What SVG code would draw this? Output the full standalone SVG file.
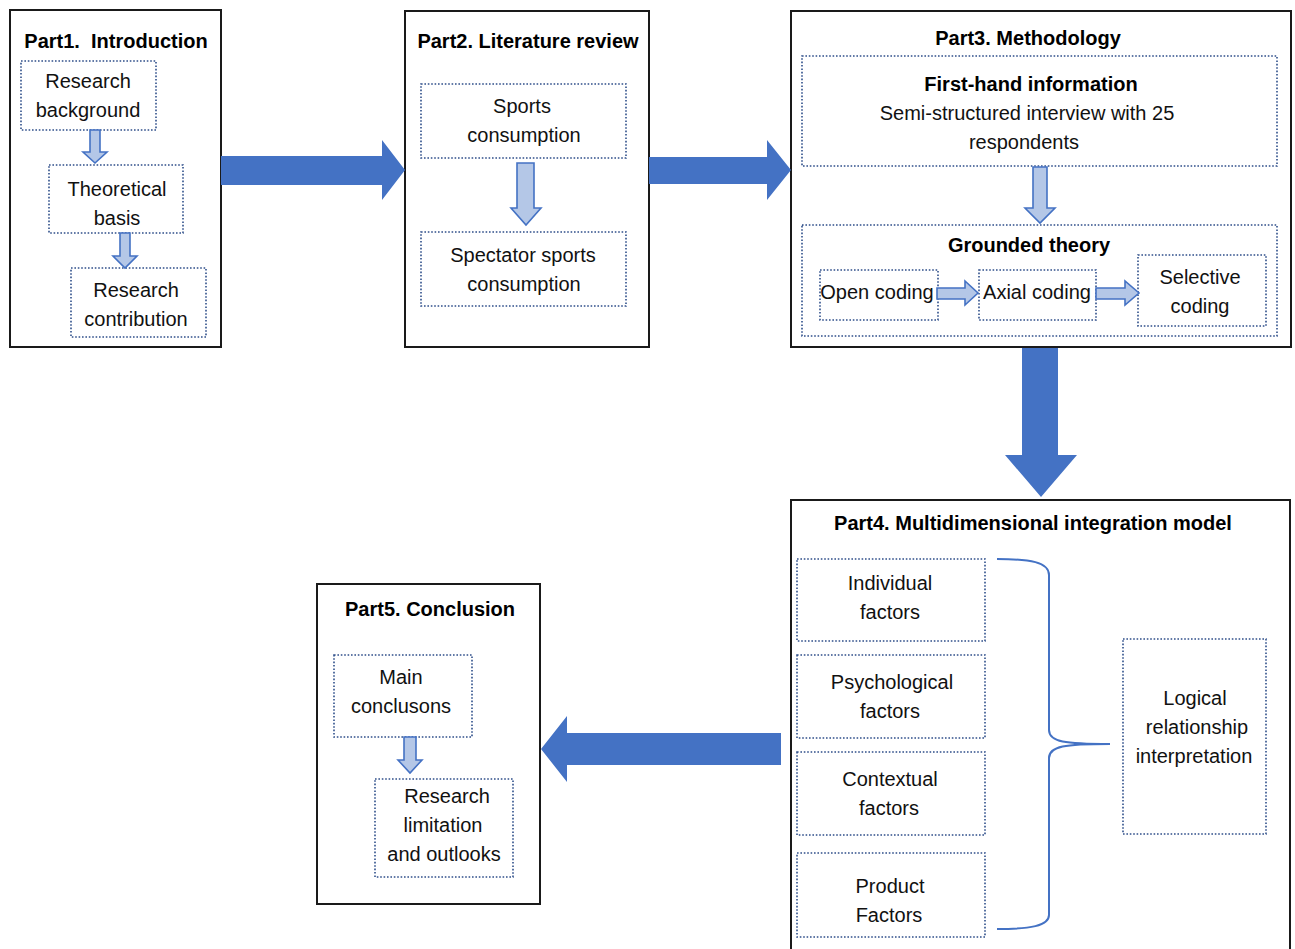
<svg xmlns="http://www.w3.org/2000/svg" width="1295" height="949" viewBox="0 0 1295 949">
<style>
.part{fill:#fff;stroke:#1a1a1a;stroke-width:2}
.dot{fill:none;stroke:#2F4F8A;stroke-width:1.6;stroke-dasharray:1.6 1.8}
.t{font-family:"Liberation Sans",Arial,sans-serif;font-size:20px;fill:#111;text-anchor:middle}
.b{font-family:"Liberation Sans",Arial,sans-serif;font-size:20px;font-weight:bold;fill:#000;text-anchor:middle}
.big{fill:#4472C4;stroke:none}
.sm{fill:#B4C7E7;stroke:#4472C4;stroke-width:1.6;stroke-linejoin:miter}
.brace{fill:none;stroke:#4472C4;stroke-width:2}
</style>
<rect width="1295" height="949" fill="#fff"/>

<g id="part1">
<rect class="part" x="10" y="10" width="211" height="337"/>
<text class="b" x="116" y="48">Part1.&#160; Introduction</text>
<rect class="dot" x="21" y="61" width="135" height="69"/>
<text class="t" x="88" y="88">Research</text>
<text class="t" x="88" y="117">background</text>
<rect class="dot" x="49" y="165" width="134" height="68"/>
<text class="t" x="117" y="196">Theoretical</text>
<text class="t" x="117" y="225">basis</text>
<rect class="dot" x="71" y="268" width="135" height="69"/>
<text class="t" x="136" y="297">Research</text>
<text class="t" x="136" y="326">contribution</text>
<path class="sm" d="M90,130 H100 V152 H107 L95,163 L83,152 H90 Z"/>
<path class="sm" d="M120,233 H130 V256 H137 L125,268 L113,256 H120 Z"/>
</g>

<g id="part2">
<rect class="part" x="405" y="11" width="244" height="336"/>
<text class="b" x="528" y="48">Part2. Literature review</text>
<rect class="dot" x="421" y="84" width="205" height="74"/>
<text class="t" x="522" y="113">Sports</text>
<text class="t" x="524" y="142">consumption</text>
<rect class="dot" x="421" y="232" width="205" height="74"/>
<text class="t" x="523" y="262">Spectator sports</text>
<text class="t" x="524" y="291">consumption</text>
<path class="sm" d="M517,163 H534 V208 H541 L526,225 L511,208 H517 Z"/>
</g>

<g id="part3">
<rect class="part" x="791" y="11" width="500" height="336"/>
<text class="b" x="1028" y="45">Part3. Methodology</text>
<rect class="dot" x="802" y="56" width="475" height="110"/>
<text class="b" x="1031" y="91">First-hand information</text>
<text class="t" x="1027" y="120">Semi-structured interview with 25</text>
<text class="t" x="1024" y="149">respondents</text>
<path class="sm" d="M1033,167 H1047 V208 H1055 L1040,223 L1025,208 H1033 Z"/>
<rect class="dot" x="802" y="225" width="475" height="111"/>
<text class="b" x="1029" y="252">Grounded theory</text>
<rect class="dot" x="820" y="270" width="118" height="50"/>
<text class="t" x="877" y="299">Open coding</text>
<rect class="dot" x="979" y="270" width="117" height="50"/>
<text class="t" x="1037" y="299">Axial coding</text>
<rect class="dot" x="1138" y="255" width="128" height="71"/>
<text class="t" x="1200" y="284">Selective</text>
<text class="t" x="1200" y="313">coding</text>
<path class="sm" d="M937,288 H965 V281 L978,293 L965,305 V299 H937 Z"/>
<path class="sm" d="M1096,288 H1125 V281 L1139,293 L1125,305 V299 H1096 Z"/>
</g>

<g id="part4">
<rect class="part" x="791" y="500" width="499" height="470"/>
<text class="b" x="1033" y="530">Part4. Multidimensional integration model</text>
<rect class="dot" x="797" y="559" width="188" height="82"/>
<text class="t" x="890" y="590">Individual</text>
<text class="t" x="890" y="619">factors</text>
<rect class="dot" x="797" y="655" width="188" height="83"/>
<text class="t" x="892" y="689">Psychological</text>
<text class="t" x="890" y="718">factors</text>
<rect class="dot" x="797" y="752" width="188" height="83"/>
<text class="t" x="890" y="786">Contextual</text>
<text class="t" x="889" y="815">factors</text>
<rect class="dot" x="797" y="853" width="188" height="84"/>
<text class="t" x="890" y="893">Product</text>
<text class="t" x="889" y="922">Factors</text>
<rect class="dot" x="1123" y="639" width="143" height="195"/>
<text class="t" x="1195" y="705">Logical</text>
<text class="t" x="1197" y="734">relationship</text>
<text class="t" x="1194" y="763">interpretation</text>
<path class="brace" d="M997,559 C1030,559 1049,562 1049,575 V730 C1049,742 1065,744 1110,744 M1110,744 C1065,744 1049,746 1049,758 V915 C1049,926 1030,929 997,929"/>
</g>

<g id="part5">
<rect class="part" x="317" y="584" width="223" height="320"/>
<text class="b" x="430" y="616">Part5. Conclusion</text>
<rect class="dot" x="334" y="655" width="138" height="82"/>
<text class="t" x="401" y="684">Main</text>
<text class="t" x="401" y="713">conclusons</text>
<rect class="dot" x="375" y="779" width="138" height="98"/>
<text class="t" x="447" y="803">Research</text>
<text class="t" x="443" y="832">limitation</text>
<text class="t" x="444" y="861">and outlooks</text>
<path class="sm" d="M404,737 H416 V760 H422 L410,773 L398,760 H404 Z"/>
</g>

<g id="connectors">
<path class="big" d="M221,156 H382 V140 L405,170 L382,200 V185 H221 Z"/>
<path class="big" d="M649,157 H767 V140 L791,170 L767,200 V184 H649 Z"/>
<path class="big" d="M1022,348 H1058 V455 H1077 L1041,497 L1005,455 H1022 Z"/>
<path class="big" d="M781,733 H567 V716 L541,749 L567,782 V765 H781 Z"/>
</g>
</svg>
